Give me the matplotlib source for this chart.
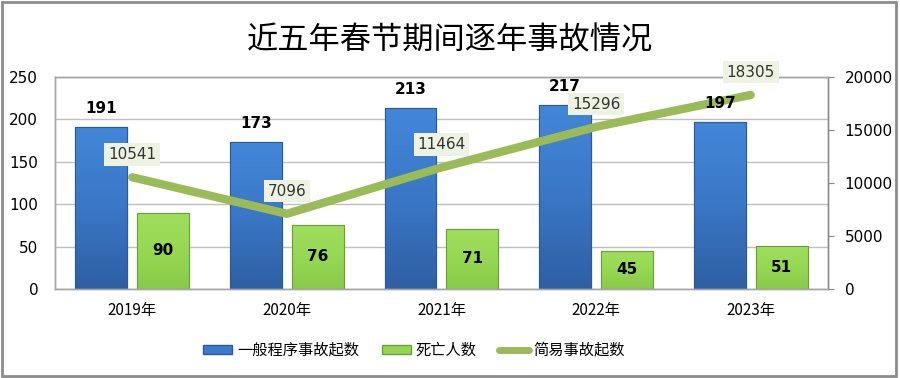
import numpy as np
import matplotlib
matplotlib.use('Agg')
import matplotlib.pyplot as plt
from matplotlib.patches import Rectangle, Patch
from matplotlib.lines import Line2D
from matplotlib.colors import LinearSegmentedColormap

plt.rcParams['font.family'] = ['DejaVu Sans', 'Noto Sans CJK SC']

years = ['2019年', '2020年', '2021年', '2022年', '2023年']
general_accidents = [191, 173, 213, 217, 197]
deaths = [90, 76, 71, 45, 51]
simple_accidents = [10541, 7096, 11464, 15296, 18305]

BLUE = '#3C7BCB'
BLUE_EDGE = '#2A5A99'
GREEN = '#94D452'
GREEN_EDGE = '#6E9E3A'
LINE = '#9BBB59'
GRID = '#BFBFBF'

blue_cmap = LinearSegmentedColormap.from_list('b', ['#2F5FA2', '#3A77C6', '#4386D8'])
green_cmap = LinearSegmentedColormap.from_list('g', ['#8AC94A', '#96D853', '#A0DE5E'])


def gradient_bars(ax, bars, cmap):
    grad = np.linspace(0, 1, 100).reshape(-1, 1)
    for rect in bars:
        x0, y0 = rect.get_x(), rect.get_y()
        w, h = rect.get_width(), rect.get_height()
        im = ax.imshow(grad, cmap=cmap, aspect='auto', origin='lower',
                       extent=(x0, x0 + w, y0, y0 + h), zorder=2.1)
        im.set_clip_path(rect)


fig = plt.figure(figsize=(9, 3.78), dpi=100)
ax = fig.add_axes([0.061, 0.2354, 0.859, 0.561])
ax2 = ax.twinx()

x = np.arange(len(years))
w = 0.335
off = 0.2

b1 = ax.bar(x - off, general_accidents, w, color=BLUE, edgecolor=BLUE_EDGE, linewidth=0.8, zorder=2)
b2 = ax.bar(x + off, deaths, w, color=GREEN, edgecolor=GREEN_EDGE, linewidth=0.8, zorder=2)
gradient_bars(ax, b1, blue_cmap)
gradient_bars(ax, b2, green_cmap)
for rect in list(b1) + list(b2):
    ax.add_patch(Rectangle((rect.get_x(), rect.get_y()), rect.get_width(), rect.get_height(),
                           fill=False, edgecolor=rect.get_edgecolor(), linewidth=0.8, zorder=2.2))

ax2.plot(x, simple_accidents, color=LINE, linewidth=6, solid_capstyle='round', zorder=3)

for rect, v in zip(b1, general_accidents):
    ax2.annotate(str(v), (rect.get_x() + rect.get_width() / 2, v), xycoords=ax.transData,
                 xytext=(0, 8), textcoords='offset points', ha='center', va='bottom',
                 fontsize=11, fontweight='bold', zorder=5)
for rect, v in zip(b2, deaths):
    ax2.annotate(str(v), (rect.get_x() + rect.get_width() / 2, v / 2), xycoords=ax.transData,
                 ha='center', va='center', fontsize=11, fontweight='bold', zorder=5)

for xi, v in zip(x, simple_accidents):
    ax2.annotate(str(v), (xi, v), xytext=(0, 11), textcoords='offset points',
                 ha='center', va='bottom', fontsize=11, color='#333333', zorder=6,
                 bbox=dict(boxstyle='square,pad=0.25', facecolor='#EEF2E2', edgecolor='none'))

ax.set_xlim(-0.5, 4.5)
ax.set_ylim(0, 250)
ax.set_yticks(range(0, 251, 50))
ax2.set_ylim(0, 20000)
ax2.set_yticks(range(0, 20001, 5000))

ax.set_xticks(x)
ax.set_xticklabels(years, fontsize=11, family=['Noto Sans CJK SC'])
ax.tick_params(axis='x', length=0, pad=9)
ax.tick_params(axis='y', length=0, labelsize=11, pad=12)
ax2.tick_params(axis='y', length=4, color='#888888', labelsize=11, pad=8)

ax.grid(axis='y', color=GRID, linewidth=1, zorder=0)
ax.set_axisbelow(True)
for a in (ax, ax2):
    for s in a.spines.values():
        s.set_color('#A6A6A6')
        s.set_linewidth(1)
ax2.spines['right'].set_color('#888888')

fig.text(0.5, 0.894, '近五年春节期间逐年事故情况', ha='center', va='center',
         fontsize=22.5, family=['Noto Sans CJK SC'])

handles = [Patch(facecolor=BLUE, edgecolor=BLUE_EDGE),
           Patch(facecolor=GREEN, edgecolor=GREEN_EDGE),
           Line2D([0], [0], color=LINE, linewidth=5, solid_capstyle='round')]
labels = ['一般程序事故起数', '死亡人数', '简易事故起数']
fig.legend(handles, labels, loc='center', bbox_to_anchor=(0.46, 0.073), ncol=3,
           frameon=False, prop={'family': 'Noto Sans CJK SC', 'size': 11},
           handlelength=1.9, handleheight=0.5, handletextpad=0.3, columnspacing=1.5)

fig.patches.append(Rectangle((0.002, 0.004), 0.994, 0.99, transform=fig.transFigure,
                             fill=False, edgecolor='#8C8C8C', linewidth=2))

fig.savefig('out.png', dpi=100)
